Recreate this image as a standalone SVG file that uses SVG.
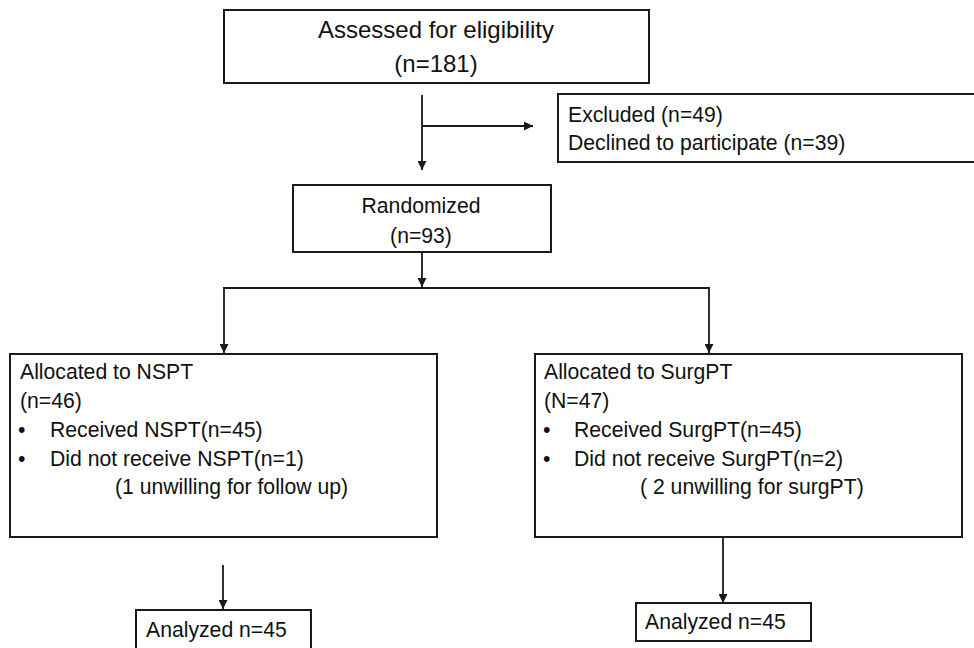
<svg xmlns="http://www.w3.org/2000/svg" width="974" height="648" viewBox="0 0 974 648">
  <defs>
    <marker id="arr" markerUnits="userSpaceOnUse" markerWidth="10" markerHeight="9" refX="9" refY="4.5" orient="auto">
      <path d="M0,0 L9,4.5 L0,9 z" fill="#1a1a1a"/>
    </marker>
    <style>
      .box { fill: #ffffff; stroke: #1a1a1a; stroke-width: 2; }
      .t { font-family: "Liberation Sans", Arial, sans-serif; font-size: 21.2px; fill: #111111; }
      .big { font-size: 24px; }
      .c { text-anchor: middle; }
      .ln { stroke: #1a1a1a; stroke-width: 1.8; fill: none; }
      .ar { marker-end: url(#arr); }
    </style>
  </defs>
  <rect width="974" height="648" fill="#ffffff"/>

  <g id="connectors">
    <line class="ln ar" x1="422" y1="95" x2="422" y2="170"/>
    <line class="ln ar" x1="422" y1="126" x2="533" y2="126"/>
    <line class="ln ar" x1="422" y1="252" x2="422" y2="287"/>
    <line class="ln" x1="223" y1="288" x2="710" y2="288"/>
    <line class="ln ar" x1="224" y1="288" x2="224" y2="353"/>
    <line class="ln ar" x1="709" y1="288" x2="709" y2="353"/>
    <line class="ln ar" x1="223" y1="565" x2="223" y2="609"/>
    <line class="ln ar" x1="723" y1="537" x2="723" y2="603"/>
  </g>

  <g id="assessed">
    <rect class="box" x="224" y="10" width="425" height="73"/>
    <text class="t big c" x="436" y="38">Assessed for eligibility</text>
    <text class="t big c" x="436" y="72">(n=181)</text>
  </g>

  <g id="excluded">
    <rect class="box" x="558" y="94" width="430" height="68"/>
    <text class="t" x="568" y="122">Excluded (n=49)</text>
    <text class="t" x="568" y="150">Declined to participate (n=39)</text>
  </g>

  <g id="randomized">
    <rect class="box" x="293" y="185" width="258" height="67"/>
    <text class="t c" x="421" y="213">Randomized</text>
    <text class="t c" x="421" y="243">(n=93)</text>
  </g>

  <g id="nspt">
    <rect class="box" x="10" y="354" width="427" height="183"/>
    <text class="t" x="20" y="379">Allocated to NSPT</text>
    <text class="t" x="20" y="408">(n=46)</text>
    <text class="t" x="18" y="437">•</text>
    <text class="t" x="50" y="437">Received NSPT(n=45)</text>
    <text class="t" x="18" y="466">•</text>
    <text class="t" x="50" y="466">Did not receive NSPT(n=1)</text>
    <text class="t" x="115" y="494">(1 unwilling for follow up)</text>
  </g>

  <g id="surgpt">
    <rect class="box" x="535" y="354" width="427" height="183"/>
    <text class="t" x="544" y="379">Allocated to SurgPT</text>
    <text class="t" x="544" y="408">(N=47)</text>
    <text class="t" x="543" y="437">•</text>
    <text class="t" x="574" y="437">Received SurgPT(n=45)</text>
    <text class="t" x="543" y="466">•</text>
    <text class="t" x="574" y="466">Did not receive SurgPT(n=2)</text>
    <text class="t" x="640" y="494">( 2 unwilling for surgPT)</text>
  </g>

  <g id="analyzed-nspt">
    <rect class="box" x="136" y="610" width="175" height="50"/>
    <text class="t" x="146" y="637">Analyzed n=45</text>
  </g>

  <g id="analyzed-surgpt">
    <rect class="box" x="636" y="603" width="175" height="38"/>
    <text class="t" x="645" y="629">Analyzed n=45</text>
  </g>
</svg>
